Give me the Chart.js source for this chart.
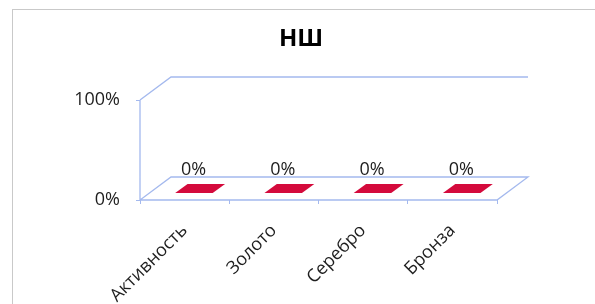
<!DOCTYPE html>
<html>
<head>
<meta charset="utf-8">
<script src="https://cdn.jsdelivr.net/npm/chart.js@4/dist/chart.umd.min.js"></script>
<style>
  html, body { margin: 0; padding: 0; background: #fff; }
  #wrap { width: 595px; height: 304px; position: relative; }
</style>
</head>
<body>
<div id="wrap"><canvas id="c"></canvas></div>
<script>
// data
const chartTitle = 'НШ';
const categories = ['Активность', 'Золото', 'Серебро', 'Бронза'];
const values = [0, 0, 0, 0];
const yMin = 0;
const yMax = 1;

const lineCol = '#a4b9ee';
const barCol = '#d40a3c';
const textCol = '#1e1e1e';
const depthX = 31, depthY = 23;

const fmtPct = v => Math.round(v * 100) + '%';

// fake 3D frame, flat bars, value labels and title
const frame3d = {
    id: 'frame3d',
    beforeDraw(chart) {
        const ctx = chart.ctx;
        ctx.save();
        ctx.fillStyle = '#fff';
        ctx.fillRect(0, 0, chart.width, chart.height);
        ctx.strokeStyle = '#c9c9c9';
        ctx.lineWidth = 1;
        ctx.strokeRect(12.5, 9.5, 640, 400);
        // title, centred on the whole frame
        ctx.fillStyle = '#000';
        ctx.font = 'bold 24px "Open Sans"';
        ctx.textAlign = 'center';
        ctx.textBaseline = 'middle';
        ctx.fillText(chartTitle, 301, 39);
        ctx.restore();
    },
    beforeDatasetsDraw(chart) {
        const ctx = chart.ctx;
        const a = chart.chartArea;
        const y0 = chart.scales.y.getPixelForValue(yMin);
        const y1 = chart.scales.y.getPixelForValue(yMax);
        ctx.save();
        ctx.strokeStyle = lineCol;
        ctx.lineWidth = 1.3;
        ctx.beginPath();
        // side wall top edge + back wall top edge
        ctx.moveTo(a.left, y1);
        ctx.lineTo(a.left + depthX, y1 - depthY);
        ctx.lineTo(a.right + depthX, y1 - depthY);
        // front left edge
        ctx.moveTo(a.left, y1);
        ctx.lineTo(a.left, y0);
        // floor
        ctx.moveTo(a.left, y0);
        ctx.lineTo(a.right, y0);
        ctx.lineTo(a.right + depthX, y0 - depthY);
        ctx.lineTo(a.left + depthX, y0 - depthY);
        ctx.closePath();
        ctx.stroke();
        ctx.restore();
    },
    afterDatasetsDraw(chart) {
        const ctx = chart.ctx;
        const xs = chart.scales.x, ys = chart.scales.y;
        const catW = (chart.chartArea.right - chart.chartArea.left) / categories.length;
        const w = catW * 0.42;
        const f1 = 0.3, f2 = 0.7;
        ctx.save();
        values.forEach((v, i) => {
            const cx = xs.getPixelForValue(i);
            const yv = ys.getPixelForValue(v);
            ctx.fillStyle = barCol;
            ctx.beginPath();
            ctx.moveTo(cx - w / 2 + f1 * depthX, yv - f1 * depthY);
            ctx.lineTo(cx + w / 2 + f1 * depthX, yv - f1 * depthY);
            ctx.lineTo(cx + w / 2 + f2 * depthX, yv - f2 * depthY);
            ctx.lineTo(cx - w / 2 + f2 * depthX, yv - f2 * depthY);
            ctx.closePath();
            ctx.fill();

            ctx.fillStyle = textCol;
            ctx.font = '18px "Open Sans"';
            ctx.textAlign = 'center';
            ctx.textBaseline = 'alphabetic';
            ctx.fillText(fmtPct(v), cx + 9, yv - 25);
        });
        ctx.restore();
    }
};

new Chart(document.getElementById('c'), {
    type: 'bar',
    data: {
        labels: categories,
        datasets: [{ label: chartTitle, data: values, backgroundColor: barCol }]
    },
    options: {
        responsive: true,
        maintainAspectRatio: false,
        animation: false,
        layout: { padding: { left: 0, right: 98, top: 100, bottom: 0 } },
        plugins: {
            legend: { display: false },
            tooltip: { enabled: false },
            title: { display: false }
        },
        scales: {
            x: {
                grid: { display: true, drawOnChartArea: false, color: lineCol, tickLength: 4, offset: true },
                border: { display: false },
                ticks: {
                    color: textCol,
                    font: { family: '"Open Sans"', size: 18 },
                    minRotation: 45,
                    maxRotation: 45,
                    padding: 16
                },
                afterFit: s => { s.height = 104; }
            },
            y: {
                min: yMin,
                max: yMax,
                grid: { display: true, drawOnChartArea: false, color: lineCol, tickLength: 4 },
                border: { display: false },
                ticks: {
                    stepSize: 1,
                    color: textCol,
                    padding: 16,
                    font: { family: '"Open Sans"', size: 18 },
                    callback: v => fmtPct(v)
                },
                afterFit: s => { s.width = 140; }
            }
        }
    },
    plugins: [frame3d]
});
</script>
</body>
</html>
